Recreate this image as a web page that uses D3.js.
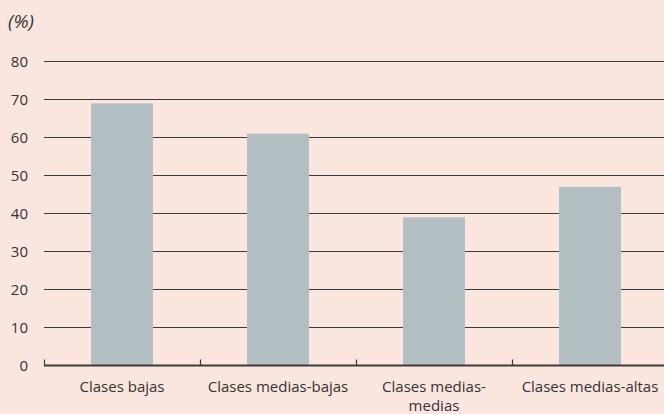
<!DOCTYPE html>
<html>
<head>
<meta charset="utf-8">
<script src="https://cdn.jsdelivr.net/npm/d3@7"></script>
<style>
  body { margin: 0; background: #fbe6df; }
  svg { display: block; }
  text { font-family: "Open Sans", "Noto Sans", sans-serif; fill: #333; }
</style>
</head>
<body>
<script>
var categories = ["Clases bajas", "Clases medias-bajas", "Clases medias-medias", "Clases medias-altas"];
var labelLines = [["Clases bajas"], ["Clases medias-bajas"], ["Clases medias-", "medias"], ["Clases medias-altas"]];
var values = [69, 61, 39, 47];
var yTicks = [0, 10, 20, 30, 40, 50, 60, 70, 80];

var w = 664, h = 414;
var plotLeft = 44, plotRight = 668, plotTop = 61.5, plotBottom = 365.5;

var svg = d3.select("body").append("svg")
  .attr("width", w)
  .attr("height", h);

svg.append("rect").attr("width", w).attr("height", h).attr("fill", "#fbe6df");

var x = d3.scaleBand().domain(categories).range([plotLeft, plotRight]).paddingInner(0).paddingOuter(0);
var y = d3.scaleLinear().domain([0, 80]).range([plotBottom, plotTop]);

var barW = 62;

// gridlines
svg.selectAll("line.grid")
  .data(yTicks.filter(function(d){ return d > 0; }))
  .enter()
  .append("line")
  .attr("class", "grid")
  .attr("x1", plotLeft)
  .attr("x2", w)
  .attr("y1", function(d){ return y(d); })
  .attr("y2", function(d){ return y(d); })
  .attr("stroke", "#3a3a3a")
  .attr("stroke-width", 1.2);

// y labels
svg.selectAll("text.ylab")
  .data(yTicks)
  .enter()
  .append("text")
  .attr("class", "ylab")
  .attr("x", 28)
  .attr("y", function(d){ return y(d); })
  .attr("dy", "0.36em")
  .attr("text-anchor", "end")
  .attr("font-size", "15px")
  .text(function(d){ return d; });

// bars
svg.selectAll("rect.bar")
  .data(values)
  .enter()
  .append("rect")
  .attr("class", "bar")
  .attr("x", function(d, i){ return x(categories[i]) + x.bandwidth() / 2 - barW / 2; })
  .attr("y", function(d){ return y(d); })
  .attr("width", barW)
  .attr("height", function(d){ return y(0) - y(d); })
  .attr("fill", "#b4bfc3");

// x axis
svg.append("line")
  .attr("x1", plotLeft).attr("x2", w)
  .attr("y1", plotBottom).attr("y2", plotBottom)
  .attr("stroke", "#3a3a3a")
  .attr("stroke-width", 2);

svg.selectAll("line.tick")
  .data(categories)
  .enter()
  .append("line")
  .attr("class", "tick")
  .attr("x1", function(d){ return x(d) + 0.5; })
  .attr("x2", function(d){ return x(d) + 0.5; })
  .attr("y1", plotBottom)
  .attr("y2", plotBottom - 6)
  .attr("stroke", "#3a3a3a")
  .attr("stroke-width", 1.2);

// x labels
var xl = svg.selectAll("text.xlab")
  .data(categories)
  .enter()
  .append("text")
  .attr("class", "xlab")
  .attr("text-anchor", "middle")
  .attr("font-size", "15px")
  .attr("x", function(d){ return x(d) + x.bandwidth() / 2; })
  .attr("y", 392);

xl.selectAll("tspan")
  .data(function(d, i){ return labelLines[i]; })
  .enter()
  .append("tspan")
  .attr("x", function(){ return d3.select(this.parentNode).attr("x"); })
  .attr("dy", function(d, i){ return i === 0 ? 0 : 19; })
  .text(function(d){ return d; });

// unit label
svg.append("text")
  .attr("x", 8)
  .attr("y", 28)
  .attr("font-size", "19px")
  .attr("font-style", "italic")
  .text("(%)");
</script>
</body>
</html>
